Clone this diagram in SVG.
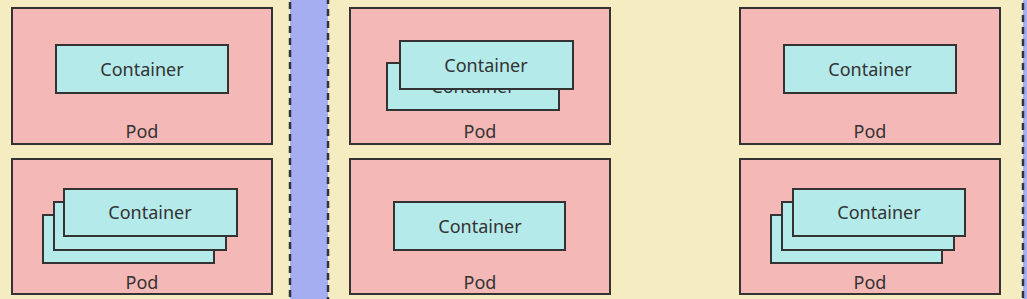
<svg xmlns="http://www.w3.org/2000/svg" width="1027" height="299" viewBox="0 0 1027 299">
<style>
.zone{fill:#f5edc1;stroke:#2e3440;stroke-width:2.5;stroke-dasharray:7 5}
.pod{fill:#f4b8b6;stroke:#333;stroke-width:2}
.ctr{fill:#b5eaeb;stroke:#333;stroke-width:2}
text{font-family:"Noto Sans","Open Sans",sans-serif;font-size:18px;fill:#333;text-anchor:middle;dominant-baseline:central}
</style>
<rect x="0" y="0" width="1027" height="299" fill="#a6aef2"/>
<g id="node-left"><rect class="zone" x="-10" y="-10" width="300" height="320"/></g>
<g id="node-right"><rect class="zone" x="328" y="-10" width="695" height="320"/></g>
<g id="pod1">
<rect class="pod" x="12" y="8" width="260" height="136"/>
<text x="142" y="131">Pod</text>
<rect class="ctr" x="56" y="45" width="172" height="48"/>
<text x="142" y="69">Container</text>
</g>
<g id="pod2">
<rect class="pod" x="12" y="159" width="260" height="135"/>
<text x="142" y="282">Pod</text>
<rect class="ctr" x="43" y="215" width="171" height="48"/>
<rect class="ctr" x="54" y="202" width="172" height="48"/>
<rect class="ctr" x="64" y="189" width="173" height="47"/>
<text x="150" y="212">Container</text>
</g>
<g id="pod3">
<rect class="pod" x="350" y="8" width="260" height="136"/>
<text x="480" y="131">Pod</text>
<rect class="ctr" x="387" y="63" width="172" height="47"/>
<text x="473" y="86">Container</text>
<rect class="ctr" x="400" y="41" width="173" height="48"/>
<text x="486" y="65">Container</text>
</g>
<g id="pod4">
<rect class="pod" x="350" y="159" width="260" height="135"/>
<text x="480" y="282">Pod</text>
<rect class="ctr" x="394" y="202" width="171" height="48"/>
<text x="480" y="226">Container</text>
</g>
<g id="pod5">
<rect class="pod" x="740" y="8" width="260" height="136"/>
<text x="870" y="131">Pod</text>
<rect class="ctr" x="784" y="45" width="172" height="48"/>
<text x="870" y="69">Container</text>
</g>
<g id="pod6">
<rect class="pod" x="740" y="159" width="260" height="135"/>
<text x="870" y="282">Pod</text>
<rect class="ctr" x="771" y="215" width="171" height="48"/>
<rect class="ctr" x="782" y="202" width="172" height="48"/>
<rect class="ctr" x="793" y="189" width="172" height="47"/>
<text x="879" y="212">Container</text>
</g>
<g id="connectors"></g>
</svg>
